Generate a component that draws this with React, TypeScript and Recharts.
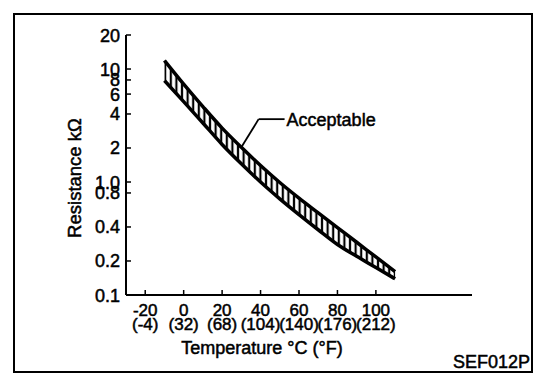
import { ComposedChart, Area, Line, XAxis, YAxis, ReferenceLine } from 'recharts';

// thermistor band (°C vs kΩ)
const tempsC = [-10, 0, 10, 20, 30, 40, 50, 60, 70, 80, 90, 100, 110];
const lowerK = [7.9, 5.15, 3.33, 2.15, 1.45, 1.0, 0.71, 0.515, 0.378, 0.28, 0.22, 0.175, 0.139];
const upperK = [11.9, 7.35, 4.65, 3.0, 2.03, 1.4, 0.99, 0.72, 0.533, 0.395, 0.293, 0.217, 0.161];

const xTicks = [-20, 0, 20, 40, 60, 80, 100];
const xTicksF = ['(-4)', '(32)', '(68)', '(104)', '(140)', '(176)', '(212)'];
const yTicks = [0.1, 0.2, 0.4, 0.8, 1, 2, 4, 6, 8, 10, 20];
const yTickLabels = ['0.1', '0.2', '0.4', '0.8', '1.0', '2', '4', '6', '8', '10', '20'];

// "Acceptable" leader: from the upper edge at 30°C, up to an elbow, then across
const leaderFromC = 30;
const leaderElbow = { t: 39, r: 3.6 };
const leaderEndC = 52.5;

const data = tempsC.map((t, i) => ({
  t,
  lower: lowerK[i],
  upper: upperK[i],
  band: [lowerK[i], upperK[i]],
}));

// scanned print: plain Helvetica-like type, a little heavy
const txt = {
  fontFamily: '"Liberation Sans", Arial, sans-serif',
  fill: '#000',
  stroke: '#000',
  strokeWidth: 0.5,
};

function XTick(props: any) {
  const { x, y, payload } = props;
  const i = xTicks.indexOf(payload.value);
  return (
    <g>
      <line x1={x} y1={y} x2={x} y2={y - 5} stroke="#000" strokeWidth={1.5} />
      <text x={x} y={y + 21} textAnchor="middle" fontSize={17} {...txt}>
        {payload.value}
      </text>
      <text x={x} y={y + 35} textAnchor="middle" fontSize={17} {...txt}>
        {xTicksF[i]}
      </text>
    </g>
  );
}

function YTick(props: any) {
  const { x, y, payload } = props;
  const i = yTicks.indexOf(payload.value);
  return (
    <g>
      <line x1={x} y1={y} x2={x + 5} y2={y} stroke="#000" strokeWidth={1.5} />
      <text x={x - 6} y={y + 6.5} textAnchor="end" fontSize={18} {...txt}>
        {yTickLabels[i]}
      </text>
    </g>
  );
}

export default function App() {
  const upperAt = upperK[tempsC.indexOf(leaderFromC)];
  return (
    <div style={{ position: 'absolute', left: 0, top: 0, width: 560, height: 392, background: '#fff' }}>
      <svg width={560} height={392} style={{ position: 'absolute', left: 0, top: 0 }}>
        <rect x={14} y={14} width={518} height={358} fill="none" stroke="#000" strokeWidth={2} />
        <text x={530} y={368} textAnchor="end" fontSize={18} {...txt}>
          SEF012P
        </text>
      </svg>
      <div style={{ position: 'absolute', left: 0, top: 0 }}>
        <ComposedChart width={560} height={392} data={data} margin={{ top: 35, right: 88, bottom: 37, left: 66 }}>
          <defs>
            <pattern id="hatch" patternUnits="userSpaceOnUse" width={5.6} height={8}>
              <line x1={2.8} y1={0} x2={2.8} y2={8} stroke="#000" strokeWidth={2.2} />
            </pattern>
          </defs>
          <XAxis
            type="number"
            dataKey="t"
            domain={[-30, 150]}
            ticks={xTicks}
            allowDataOverflow
            height={60}
            tickSize={0}
            tickMargin={0}
            tickLine={false}
            axisLine={{ stroke: '#000', strokeWidth: 2 }}
            tick={<XTick />}
            interval={0}
            label={{
              content: ({ viewBox }: any) => (
                <text x={viewBox.x + 136} y={viewBox.y + 59} textAnchor="middle" fontSize={18} {...txt}>
                  Temperature °C (°F)
                </text>
              ),
            }}
          />
          <YAxis
            type="number"
            scale="log"
            domain={[0.1, 20]}
            ticks={yTicks}
            allowDataOverflow
            width={60}
            tickSize={0}
            tickMargin={0}
            tickLine={false}
            axisLine={{ stroke: '#000', strokeWidth: 2 }}
            tick={<YTick />}
            interval={0}
            label={{
              content: ({ viewBox }: any) => {
                const lx = viewBox.x + 15;
                const ly = viewBox.y + viewBox.height / 2 + 13;
                return (
                  <text
                    x={lx}
                    y={ly}
                    transform={`rotate(-90, ${lx}, ${ly})`}
                    textAnchor="middle"
                    fontSize={18.5}
                    {...txt}
                  >
                    Resistance kΩ
                  </text>
                );
              },
            }}
          />
          <Area
            type="monotone"
            dataKey="band"
            stroke="none"
            fill="url(#hatch)"
            fillOpacity={1}
            isAnimationActive={false}
          />
          <Line type="monotone" dataKey="upper" stroke="#000" strokeWidth={3.5} dot={false} isAnimationActive={false} />
          <Line type="monotone" dataKey="lower" stroke="#000" strokeWidth={3.5} dot={false} isAnimationActive={false} />
          <ReferenceLine
            segment={[
              { x: leaderFromC, y: upperAt },
              { x: leaderElbow.t, y: leaderElbow.r },
            ]}
            stroke="#000"
            strokeWidth={1.8}
          />
          <ReferenceLine
            segment={[
              { x: leaderElbow.t, y: leaderElbow.r },
              { x: leaderEndC, y: leaderElbow.r },
            ]}
            stroke="#000"
            strokeWidth={1.8}
            label={{
              content: ({ viewBox }: any) => (
                <text x={viewBox.x + viewBox.width + 2} y={viewBox.y + 6.5} fontSize={18} {...txt}>
                  Acceptable
                </text>
              ),
            }}
          />
        </ComposedChart>
      </div>
    </div>
  );
}
